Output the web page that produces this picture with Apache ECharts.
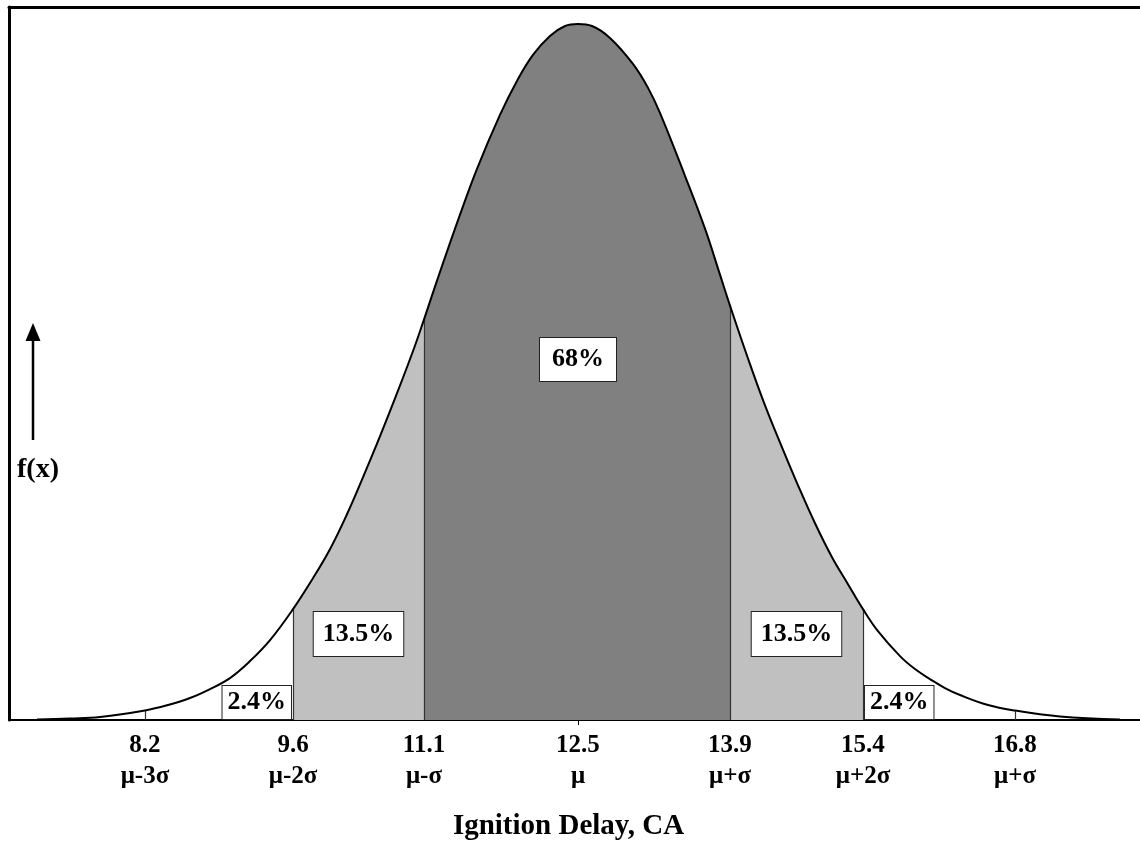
<!DOCTYPE html>
<html>
<head>
<meta charset="utf-8">
<script src="https://cdn.jsdelivr.net/npm/echarts@6/dist/echarts.min.js"></script>
<style>
  html, body { margin: 0; padding: 0; background: #fff; }
  #chart { width: 1140px; height: 846px; }
</style>
</head>
<body>
<div id="chart"></div>
<script>
// ---- data ----
const curveX = [7.154, 7.480, 7.777, 8.221, 8.449, 8.666, 8.864, 9.061, 9.259, 9.457, 9.684, 9.881, 10.049, 10.217, 10.375, 10.543, 10.711, 10.879, 10.978, 11.107, 11.334, 11.502, 11.729, 11.897, 12.055, 12.223, 12.372, 12.5, 12.638, 12.816, 13.043, 13.192, 13.310, 13.557, 13.755, 13.903, 14.002, 14.180, 14.348, 14.516, 14.674, 14.842, 15.010, 15.168, 15.316, 15.464, 15.682, 15.830, 15.978, 16.126, 16.275, 16.551, 16.818, 17.263, 17.856];
const curveY = [0.0002, 0.0006, 0.0012, 0.0038, 0.0060, 0.0088, 0.0124, 0.0168, 0.0236, 0.0320, 0.0444, 0.0568, 0.0684, 0.0824, 0.0972, 0.1136, 0.1308, 0.1488, 0.1604, 0.1760, 0.2024, 0.2208, 0.2424, 0.2560, 0.2664, 0.2740, 0.2780, 0.2788, 0.2780, 0.2732, 0.2628, 0.2532, 0.2432, 0.2180, 0.1968, 0.1784, 0.1660, 0.1448, 0.1260, 0.1092, 0.0940, 0.0788, 0.0652, 0.0544, 0.0444, 0.0356, 0.0256, 0.0204, 0.0164, 0.0128, 0.0100, 0.0060, 0.0038, 0.0014, 0.0002];
// positions of mu-3s ... mu+3s on the axis (as drawn)
const sigmaEdges = [8.221, 9.684, 10.978, 12.5, 14.002, 15.316, 16.818];
const tickValues = ['8.2', '9.6', '11.1', '12.5', '13.9', '15.4', '16.8'];
const tickSigma = ['\u03bc-3\u03c3', '\u03bc-2\u03c3', '\u03bc-\u03c3', '\u03bc', '\u03bc+\u03c3', '\u03bc+2\u03c3', '\u03bc+\u03c3'];
const bandShares = ['2.4%', '13.5%', '68%', '13.5%', '2.4%'];
const axisTitle = 'Ignition Delay, CA';
const yTitle = 'f(x)';

// ---- helpers ----
const pts = curveX.map((x, i) => [x, curveY[i]]);
function slice(lo, hi) { return pts.filter(p => p[0] >= lo - 1e-9 && p[0] <= hi + 1e-9); }
function yAt(x) {
  for (let i = 0; i < curveX.length - 1; i++) {
    if (x >= curveX[i] && x <= curveX[i + 1]) {
      const t = (x - curveX[i]) / (curveX[i + 1] - curveX[i]);
      return curveY[i] + t * (curveY[i + 1] - curveY[i]);
    }
  }
  return 0;
}
const FONT = 'Liberation Serif';
const SM = 0.4;
const DARK = '#808080', LIGHT = '#c0c0c0';

function areaSeries(lo, hi, color) {
  return {
    type: 'line', data: slice(lo, hi), smooth: SM, symbol: 'none', silent: true,
    lineStyle: { width: 0, opacity: 0 }, areaStyle: { color: color, opacity: 1 }, z: 1
  };
}

const boundaryLines = sigmaEdges.filter((e, i) => i !== 3).map(e => ({ coords: [[e, 0], [e, yAt(e)]] }));

const boxBase = {
  show: true, fontFamily: FONT, fontWeight: 'bold', fontSize: 26, lineHeight: 26, color: '#000',
  backgroundColor: '#fff', borderColor: '#222', borderWidth: 1, opacity: 1
};
const labelData = [
  { value: [sigmaEdges[1], 0.0070], label: Object.assign({}, boxBase, { position: 'left', distance: 2, padding: [4, 5, 3, 5], formatter: bandShares[0] }) },
  { value: [(sigmaEdges[1] + sigmaEdges[2]) / 2, 0.0344], label: Object.assign({}, boxBase, { position: 'inside', padding: [9, 9, 9, 9], formatter: bandShares[1] }) },
  { value: [sigmaEdges[3], 0.1444], label: Object.assign({}, boxBase, { position: 'inside', padding: [9, 12, 8, 12], formatter: bandShares[2] }) },
  { value: [(sigmaEdges[4] + sigmaEdges[5]) / 2, 0.0344], label: Object.assign({}, boxBase, { position: 'inside', padding: [9, 9, 9, 9], formatter: bandShares[3] }) },
  { value: [sigmaEdges[5], 0.0070], label: Object.assign({}, boxBase, { position: 'right', distance: 2, padding: [4, 5, 3, 5], formatter: bandShares[4] }) }
];

const XMIN = 6.8775, XMAX = 18.0534, YMAX = 0.2856;

const chart = echarts.init(document.getElementById('chart'), null, { renderer: 'canvas' });
chart.setOption({
  animation: false,
  backgroundColor: '#fff',
  grid: { left: 9, right: 0, top: 7, bottom: 125, containLabel: false },
  xAxis: [{
    type: 'value', min: XMIN, max: XMAX,
    axisLine: { onZero: false, lineStyle: { color: '#000', width: 2 } },
    splitLine: { show: false },
    axisTick: { show: true, customValues: [sigmaEdges[3]], length: 5, lineStyle: { color: '#000', width: 1 } },
    axisLabel: {
      customValues: sigmaEdges, margin: 10,
      fontFamily: FONT, fontWeight: 'bold', fontSize: 25, lineHeight: 31, color: '#000',
      formatter: function (v) {
        const i = sigmaEdges.findIndex(e => Math.abs(e - v) < 1e-6);
        return i < 0 ? '' : tickValues[i] + '\n' + tickSigma[i];
      }
    },
    name: axisTitle, nameLocation: 'middle', nameGap: 92,
    nameTextStyle: { fontFamily: FONT, fontWeight: 'bold', fontSize: 29, color: '#000', padding: [0, 12, 0, 0] }
  }, {
    type: 'value', min: XMIN, max: XMAX, position: 'top',
    axisLine: { show: true, onZero: false, lineStyle: { color: '#000', width: 3 } },
    axisTick: { show: false }, axisLabel: { show: false }, splitLine: { show: false }
  }],
  yAxis: {
    type: 'value', min: 0, max: YMAX,
    axisLine: { show: true, onZero: false, lineStyle: { color: '#000', width: 3 } },
    axisTick: { show: false }, axisLabel: { show: false }, splitLine: { show: false }
  },
  graphic: [
    { type: 'line', shape: { x1: 33, y1: 440, x2: 33, y2: 336 }, style: { stroke: '#000', lineWidth: 2.5 } },
    { type: 'polygon', shape: { points: [[33, 323], [25.5, 341], [40.5, 341]] }, style: { fill: '#000' } },
    { type: 'text', x: 38, y: 470, style: { text: yTitle, font: 'bold 28px "Liberation Serif"', fill: '#000', align: 'center', verticalAlign: 'middle' } }
  ],
  series: [
    areaSeries(sigmaEdges[1], sigmaEdges[2], LIGHT),
    areaSeries(sigmaEdges[4], sigmaEdges[5], LIGHT),
    areaSeries(sigmaEdges[2], sigmaEdges[4], DARK),
    {
      type: 'lines', coordinateSystem: 'cartesian2d', silent: true, z: 3,
      lineStyle: { color: '#333', width: 1.2, opacity: 1 },
      data: boundaryLines
    },
    {
      type: 'line', data: pts, smooth: SM, symbol: 'none', silent: true, z: 4,
      lineStyle: { color: '#000', width: 2 }
    },
    {
      type: 'scatter', symbolSize: 0, silent: true, z: 5,
      itemStyle: { opacity: 1 },
      emphasis: { disabled: true },
      data: labelData
    }
  ]
});
</script>
</body>
</html>
